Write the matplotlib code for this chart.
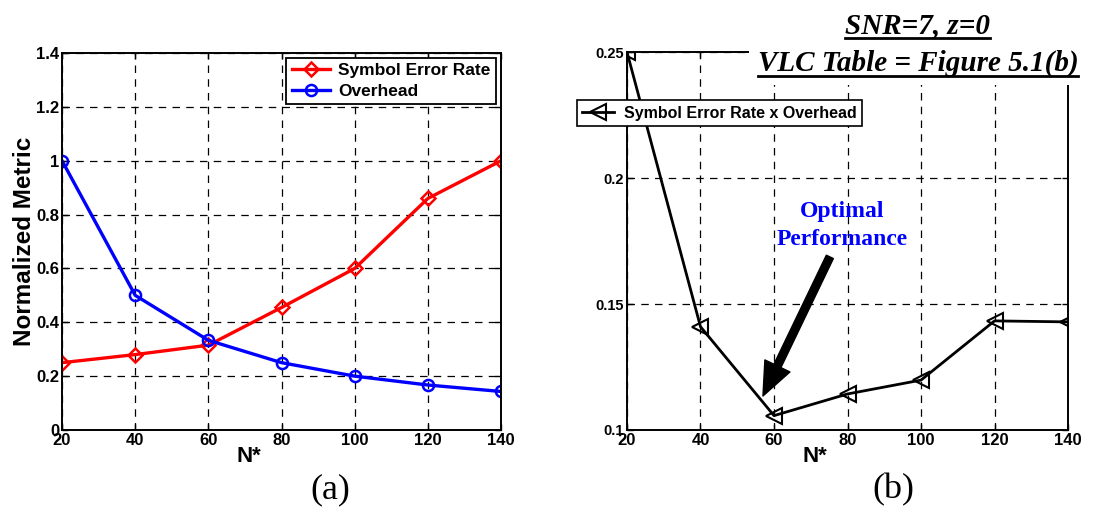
import numpy as np
import matplotlib
matplotlib.use("Agg")
import matplotlib.pyplot as plt
from matplotlib.lines import Line2D

# data
n_star = [20, 40, 60, 80, 100, 120, 140]
ser = [0.25, 0.28, 0.315, 0.455, 0.60, 0.86, 1.0]
overhead = [1.0, 0.5, 0.333, 0.25, 0.20, 0.167, 0.143]
ser_x_overhead = [0.25, 0.141, 0.1057, 0.1143, 0.1198, 0.1433, 0.1429]

left_yticks = [0, 0.2, 0.4, 0.6, 0.8, 1.0, 1.2, 1.4]
left_yticklabels = ['0', '0.2', '0.4', '0.6', '0.8', '1', '1.2', '1.4']
right_yticks = [0.1, 0.15, 0.2, 0.25]
right_yticklabels = ['0.1', '0.15', '0.2', '0.25']

sans = 'Liberation Sans'
serif = 'Liberation Serif'
plt.rcParams['font.family'] = sans

fig = plt.figure(figsize=(11.2, 5.13), dpi=100)
ax1 = fig.add_axes([0.0554, 0.1618, 0.3920, 0.7349])
ax2 = fig.add_axes([0.5598, 0.1618, 0.3938, 0.7368])


def style_axis(ax, yticks, ylabels, ysize):
    ax.set_xlim(20, 140)
    ax.set_xticks(n_star)
    ax.set_xticklabels([str(v) for v in n_star], fontsize=12, fontweight='bold')
    ax.set_yticks(yticks)
    ax.set_yticklabels(ylabels, fontsize=ysize, fontweight='bold')
    ax.tick_params(direction='in', length=4, width=1, pad=2, top=True, right=True)
    ax.grid(True, color='black', linestyle=(0, (6, 5)), linewidth=0.9)
    for s in ax.spines.values():
        s.set_linewidth(1.4)
    ax.text(0.425, -0.07, 'N*', transform=ax.transAxes, ha='center', va='center',
            fontsize=16, fontweight='bold')


# ---- (a)
ax1.plot(n_star, ser, color='red', lw=2.4, marker='D', markersize=7.5,
         markerfacecolor='none', markeredgewidth=1.8, label='Symbol Error Rate')
ax1.plot(n_star, overhead, color='blue', lw=2.4, marker='o', markersize=8,
         markerfacecolor='none', markeredgewidth=1.8, label='Overhead')
ax1.set_ylim(0, 1.4)
style_axis(ax1, left_yticks, left_yticklabels, 12)
ax1.set_ylabel('Normalized Metric', fontsize=17.5, fontweight='bold', labelpad=0)
leg1 = ax1.legend(loc='upper right', bbox_to_anchor=(0.4429, 0.887),
                  bbox_transform=fig.transFigure, borderaxespad=0,
                  prop={'weight': 'bold', 'size': 12.5}, fancybox=False,
                  edgecolor='black', framealpha=1, handlelength=2.2,
                  borderpad=0.3, labelspacing=0.3, handletextpad=0.5)
leg1.get_frame().set_linewidth(1.3)

# ---- (b)
ax2.plot(n_star, ser_x_overhead, color='black', lw=2, marker='<', markersize=12,
         markerfacecolor='none', markeredgewidth=1.5,
         label='Symbol Error Rate x Overhead')
ax2.set_ylim(0.1, 0.25)
style_axis(ax2, right_yticks, right_yticklabels, 10.5)
leg2 = ax2.legend(loc='upper left', bbox_to_anchor=(0.515, 0.805),
                  bbox_transform=fig.transFigure, borderaxespad=0,
                  prop={'weight': 'bold', 'size': 11.5}, fancybox=False,
                  edgecolor='black', framealpha=1, handlelength=2.0,
                  borderpad=0.35, handletextpad=0.6)
leg2.get_frame().set_linewidth(1.2)

ax2.annotate('', xy=(57.0, 0.1135), xytext=(75.2, 0.1687),
             arrowprops=dict(arrowstyle='simple,head_length=1.2,head_width=1.0,tail_width=0.28',
                             color='black', mutation_scale=20,
                             shrinkA=0, shrinkB=0))
ax2.text(78.5, 0.181, 'Optimal\nPerformance', color='blue', fontsize=17,
         fontweight='bold', family=serif, ha='center', va='center',
         linespacing=1.45)

# titles (underlined, covering the top of panel b)
t1 = fig.text(0.8196, 0.951, 'SNR=7, z=0', fontsize=21, fontweight='bold',
              fontstyle='italic', family=serif, ha='center', va='center')
t2 = fig.text(0.8196, 0.877, 'VLC Table = Figure 5.1(b)', fontsize=21,
              fontweight='bold', fontstyle='italic', family=serif,
              ha='center', va='center',
              bbox=dict(facecolor='white', edgecolor='none', pad=6))

fig.canvas.draw()
r = fig.canvas.get_renderer()
W, H = fig.bbox.width, fig.bbox.height
for t in (t1, t2):
    bb = t.get_window_extent(r)
    yl = (bb.y0 + 1) / H
    fig.add_artist(Line2D([bb.x0 / W, bb.x1 / W], [yl, yl], color='black',
                          lw=2, transform=fig.transFigure, zorder=5))

fig.text(0.2946, 0.045, '(a)', fontsize=26, family=serif, ha='center', va='center')
fig.text(0.7973, 0.045, '(b)', fontsize=26, family=serif, ha='center', va='center')

fig.savefig('out.png', dpi=100)
